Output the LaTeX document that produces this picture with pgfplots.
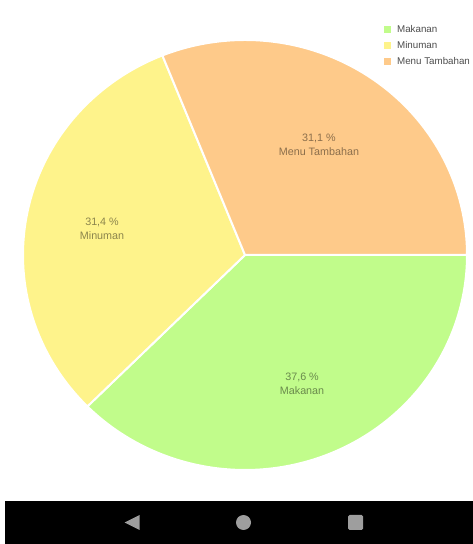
\documentclass[border=0pt]{standalone}
\usepackage{pgfplots}
\pgfplotsset{compat=1.18}
\usepackage{pgfplotstable}
\usepackage{fontspec}
\setmainfont{Liberation Sans}
\definecolor{cMak}{HTML}{C1FC8B}
\definecolor{cMin}{HTML}{FEF38B}
\definecolor{cMenu}{HTML}{FECA8A}
\definecolor{navicon}{HTML}{9E9E9E}
\tikzset{lbl/.style={font=\fontsize{10.8}{14.5}\selectfont, text=black, text opacity=0.45, align=center}}

\pgfplotstableread{
name pct
Makanan 37.6
Minuman 31.4
MenuTambahan 31.1
}\piedata
\pgfplotstablegetelem{0}{pct}\of\piedata \let\pA\pgfplotsretval
\pgfplotstablegetelem{1}{pct}\of\piedata \let\pB\pgfplotsretval
\pgfplotstablegetelem{2}{pct}\of\piedata \let\pC\pgfplotsretval
\pgfmathsetmacro\tot{\pA+\pB+\pC}
\pgfmathsetmacro\aA{-360*\pA/\tot}
\pgfmathsetmacro\aB{\aA-360*\pB/\tot}

\begin{document}
\begin{tikzpicture}
\begin{axis}[
  name=ax, at={(0,0)}, anchor=south west,
  scale only axis, width=473bp, height=544bp,
  xmin=-1.1036, xmax=1.0270, ymin=-1.3442, ymax=1.1860,
  hide axis, clip=false,
  legend image code/.code={\fill[#1, draw=none] (0bp,-3.5bp) rectangle (7bp,3.5bp);},
  legend style={draw=none, fill=none, at={(axis cs:0.626,1.074)}, anchor=north west,
    inner sep=0pt, row sep=5bp,
    font=\fontsize{9.8}{11}\selectfont, text=black!70,
    nodes={text height=7bp, text depth=2bp, inner sep=1bp},
    /tikz/every odd column/.append style={column sep=5bp}},
  legend cell align=left,
]
\addplot[fill=cMak, draw=white, line width=2bp, domain=\aA:0, samples=150, variable=\t]
  ({cos(\t)},{sin(\t)}) -- (axis cs:0,0) -- cycle;
\addlegendentry{Makanan}
\addplot[fill=cMin, draw=white, line width=2bp, domain=\aB:\aA, samples=150, variable=\t]
  ({cos(\t)},{sin(\t)}) -- (axis cs:0,0) -- cycle;
\addlegendentry{Minuman}
\addplot[fill=cMenu, draw=white, line width=2bp, domain=-360:\aB, samples=150, variable=\t]
  ({cos(\t)},{sin(\t)}) -- (axis cs:0,0) -- cycle;
\addlegendentry{Menu Tambahan}

\node[lbl] at (axis cs:0.257,-0.600) {37,6 \%\\Makanan};
\node[lbl] at (axis cs:-0.644,0.121) {31,4 \%\\Minuman};
\node[lbl] at (axis cs:0.333,0.512) {31,1 \%\\Menu Tambahan};
\end{axis}
% Android navigation bar
\fill[black] (5bp,0) rectangle (473bp,43bp);
\fill[navicon] (124.5bp,21.5bp) -- (139.5bp,29bp) -- (139.5bp,14bp) -- cycle;
\fill[navicon] (243.5bp,21.5bp) circle[radius=7.5bp];
\fill[navicon, rounded corners=1.5bp] (348bp,14bp) rectangle (363bp,29bp);
\pgfresetboundingbox
\path[use as bounding box] (0,0) rectangle (473bp,544bp);
\end{tikzpicture}
\end{document}
